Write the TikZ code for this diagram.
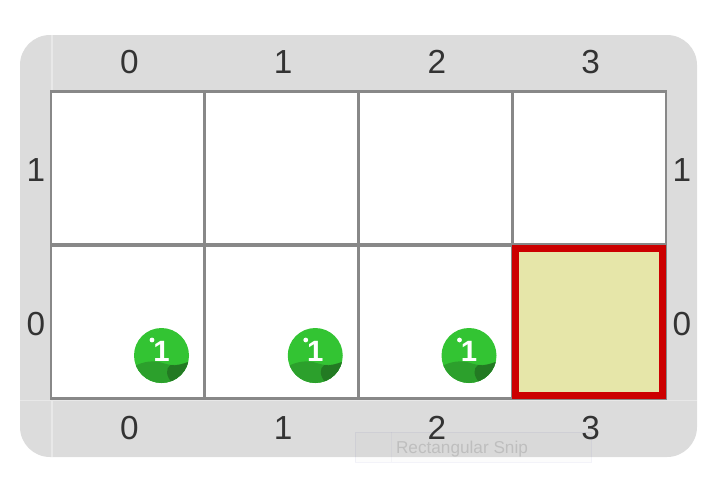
\documentclass[tikz,border=0pt]{standalone}
\usepackage{fontspec}
\setmainfont{Liberation Sans}
\definecolor{panelgray}{HTML}{DCDCDC}
\definecolor{panelline}{HTML}{E8E8E8}
\definecolor{gridgray}{HTML}{888888}
\definecolor{labelgray}{HTML}{333333}
\definecolor{goalfill}{HTML}{E6E6A9}
\definecolor{goalred}{HTML}{CC0000}
\definecolor{ballgreen}{HTML}{33C433}
\definecolor{ballmid}{HTML}{2CA02C}
\definecolor{balldark}{HTML}{237A23}
\tikzset{
 cellbox/.style={draw=gridgray,fill=white,line width=2.1pt,minimum size=115.3pt,inner sep=0pt,outer sep=0pt},
 goalbox/.style={draw=goalred,fill=goalfill,line width=5.25pt,minimum size=110.25pt,inner sep=0pt,outer sep=0pt},
 axislabel/.style={text=labelgray,font=\fontsize{25}{25}\selectfont,inner sep=0pt},
 balllabel/.style={text=white,font=\bfseries\fontsize{22}{22}\selectfont,inner sep=0pt},
}
\begin{document}
\begin{tikzpicture}[x=.75pt,y=-.75pt]
%%%%%Board starts here
\def\xl{51}
\def\yl{91}
\def\cw{153.75}
\def\ch{154}

\useasboundingbox (0,0) rectangle (718,483);
\fill[panelgray,rounded corners=22.5pt] (20,35) rectangle (697,457);
\draw[panelline,line width=.9pt] (52,35) -- (52,91);
\draw[panelline,line width=.9pt] (52,400) -- (52,457);
\draw[panelline,line width=.9pt] (20,400.5) -- (697,400.5);

\foreach \x in {0,...,3}
{
 \foreach \y in {0,1}
 {
  \node[cellbox] (cell\x\y) at (\xl+\cw*\x+.5*\cw , \yl+\ch*1.5-\ch*\y ) {};
 }
 \node[axislabel] (top\x) at (\xl+\cw*\x+.5*\cw+1.5 , 62 ) {\x};
 \node[axislabel] (bottom\x) at (\xl+\cw*\x+.5*\cw+1.5 , 428 ) {\x};
}
\foreach \y in {0,1}
{
 \node[axislabel] (left\y) at (36 , \yl+\ch*1.5-\ch*\y+2 ) {\y};
 \node[axislabel] (right\y) at (682 , \yl+\ch*1.5-\ch*\y+2 ) {\y};
}
\node[goalbox] (goal) at (cell30) {};
%%%%%Board ends here

%%%%%Balls
\foreach \x in {0,1,2}
{
 \begin{scope}[shift={(161.5+\cw*\x,355.5)}]
 \fill[ballgreen] (0,0) circle (27.5);
 \begin{scope}
 \clip (0,0) circle (27.5);
 \fill[ballmid] (-28,11) .. controls (-18,6) and (-8,4) .. (3,8) .. controls (12,11) and (20,9) .. (28,6) -- (28,28) -- (-28,28) -- cycle;
 \fill[balldark] (9,9.5) .. controls (4,13) and (4,20) .. (11,28) -- (28,28) -- (28,6) .. controls (20,9) and (15,10.5) .. (9,9.5) -- cycle;
 \end{scope}
 \fill[white] (-9.5,-15.5) ellipse (2.4 and 2.4);
 \node[balllabel] (ball\x) at (0,-4) {1};
 \end{scope}
}

%%%%%Snip tooltip
\draw[blue!30!gray,draw opacity=.07,fill=gray,fill opacity=.025] (355,432) rectangle (591,462);
\draw[blue!30!gray,draw opacity=.05] (391,432) -- (391,462);
\node[text=black,text opacity=.12,font=\fontsize{12.9}{12.9}\selectfont,inner sep=0pt] (snip) at (462,449.5) {Rectangular Snip};
\end{tikzpicture}
\end{document}
